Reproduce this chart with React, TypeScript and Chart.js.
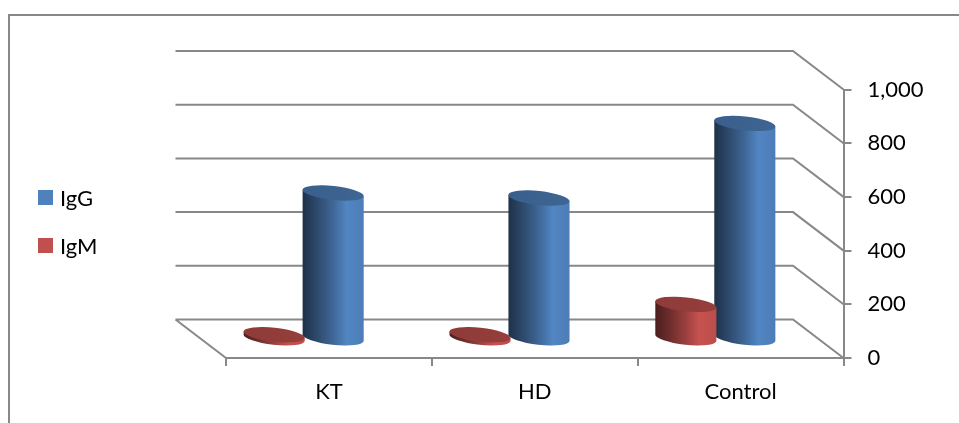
import { useEffect, useRef } from "react";
import { Chart, registerables, BarController, BarElement } from "chart.js";

Chart.register(...registerables);

// Chart data
const categories = ["KT", "HD", "Control"];
const igmValues = [15, 15, 128];
const iggValues = [543, 524, 802];
const yMin = 0;
const yMax = 1000;
const yStep = 200;

// Styling
const FONT = "Lato";
const FONT_SIZE = 22;
const LINE = "#888888";
const BLUE = "#4F81BD";
const RED = "#C0504D";

// Floor depth of the pseudo-3D box, in pixels
const DEPTH_X = 50.5;
const DEPTH_Y = 38.5;
const TILT = (6.2 * Math.PI) / 180;
const CAP_RY = 7;

function shade(hex: string, f: number) {
  const n = parseInt(hex.slice(1), 16);
  const c = [(n >> 16) & 255, (n >> 8) & 255, n & 255].map((v) =>
    Math.round(v * f)
  );
  return `rgb(${c[0]},${c[1]},${c[2]})`;
}

// A bar rendered as a slightly tilted cylinder standing on the mid-depth of the floor
class CylinderElement extends BarElement {
  static id = "cylinder";
  static defaults = BarElement.defaults;

  draw(ctx: CanvasRenderingContext2D) {
    const { x, y, base, width } = (this as any).getProps([
      "x",
      "y",
      "base",
      "width",
    ]);
    const color = (this as any).options.backgroundColor as string;
    const cx = x - DEPTH_X / 2;
    const topY = y - DEPTH_Y / 2;
    const bottomY = base - DEPTH_Y / 2;
    const rx = width / 2;

    const dx = rx * Math.cos(TILT);
    const dy = rx * Math.sin(TILT);

    const side = ctx.createLinearGradient(cx - rx, 0, cx + rx, 0);
    side.addColorStop(0, shade(color, 0.38));
    side.addColorStop(0.25, shade(color, 0.58));
    side.addColorStop(0.5, shade(color, 0.8));
    side.addColorStop(0.72, shade(color, 1.03));
    side.addColorStop(1, shade(color, 0.97));

    ctx.save();
    ctx.beginPath();
    ctx.moveTo(cx - dx, topY - dy);
    ctx.lineTo(cx - dx, bottomY - dy);
    ctx.ellipse(cx, bottomY, rx, CAP_RY, TILT, Math.PI, 0, true);
    ctx.lineTo(cx + dx, topY + dy);
    ctx.closePath();
    ctx.fillStyle = side;
    ctx.fill();

    const cap = ctx.createLinearGradient(cx - rx, 0, cx + rx, 0);
    cap.addColorStop(0, shade(color, 0.74));
    cap.addColorStop(1, shade(color, 0.78));
    ctx.beginPath();
    ctx.ellipse(cx, topY, rx, CAP_RY, TILT, 0, Math.PI * 2);
    ctx.fillStyle = cap;
    ctx.fill();
    ctx.restore();
  }
}

class CylinderController extends BarController {
  static id = "cylinderBar";
  static defaults = { ...BarController.defaults, dataElementType: "cylinder" };
}

Chart.register(CylinderElement as any, CylinderController as any);

// Frame, back wall, side wall, floor and the legend
const boxPlugin = {
  id: "box",
  beforeDraw(chart: any) {
    const ctx: CanvasRenderingContext2D = chart.ctx;
    ctx.save();
    ctx.strokeStyle = LINE;
    ctx.lineWidth = 2;
    ctx.beginPath();
    ctx.moveTo(9, 423);
    ctx.lineTo(9, 15);
    ctx.lineTo(959, 15);
    ctx.stroke();
    ctx.restore();
  },
  beforeDatasetsDraw(chart: any) {
    const ctx: CanvasRenderingContext2D = chart.ctx;
    const { left, right } = chart.chartArea;
    const yScale = chart.scales.y;
    ctx.save();
    ctx.strokeStyle = LINE;
    ctx.lineWidth = 2;
    ctx.beginPath();
    yScale.ticks.forEach((t: any) => {
      const py = yScale.getPixelForValue(t.value);
      ctx.moveTo(left - DEPTH_X, py - DEPTH_Y);
      ctx.lineTo(right - DEPTH_X, py - DEPTH_Y);
      ctx.lineTo(right, py);
    });
    const floor = yScale.getPixelForValue(yMin);
    ctx.moveTo(left - DEPTH_X, floor - DEPTH_Y);
    ctx.lineTo(left, floor);
    ctx.stroke();
    ctx.restore();
  },
  afterDraw(chart: any) {
    const ctx: CanvasRenderingContext2D = chart.ctx;
    const items = [...chart.data.datasets].reverse();
    ctx.save();
    ctx.font = `${FONT_SIZE}px ${FONT}`;
    ctx.textBaseline = "middle";
    ctx.textAlign = "left";
    items.forEach((ds: any, i: number) => {
      const cy = 197.5 + i * 48;
      ctx.fillStyle = ds.backgroundColor;
      ctx.fillRect(38, cy - 7.5, 15, 15);
      ctx.fillStyle = "#000000";
      ctx.fillText(ds.label, 60, cy + 1);
    });
    ctx.restore();
  },
};

export default function App() {
  const ref = useRef<HTMLCanvasElement>(null);

  useEffect(() => {
    const chart = new Chart(ref.current!, {
      type: "cylinderBar" as any,
      data: {
        labels: categories,
        datasets: [
          { label: "IgM", data: igmValues, backgroundColor: RED },
          { label: "IgG", data: iggValues, backgroundColor: BLUE },
        ],
      },
      plugins: [boxPlugin as any],
      options: {
        responsive: false,
        animation: false,
        layout: { padding: { left: 226, top: 89.5, right: 0, bottom: 0 } },
        categoryPercentage: 0.573,
        barPercentage: 1.042,
        plugins: { legend: { display: false }, tooltip: { enabled: false } },
        scales: {
          x: {
            type: "category",
            afterFit: (s: any) => {
              s.height = 65;
            },
            grid: {
              offset: true,
              drawOnChartArea: false,
              color: LINE,
              lineWidth: 2,
              tickLength: 8,
            },
            border: { color: LINE, width: 2 },
            ticks: {
              color: "#000000",
              padding: 13,
              font: { family: FONT, size: FONT_SIZE },
              maxRotation: 0,
            },
          },
          y: {
            type: "linear",
            position: "right",
            min: yMin,
            max: yMax,
            afterFit: (s: any) => {
              s.width = 115.5;
            },
            grid: {
              drawOnChartArea: false,
              color: LINE,
              lineWidth: 2,
              tickLength: 8,
            },
            border: { color: LINE, width: 2 },
            ticks: {
              stepSize: yStep,
              color: "#000000",
              padding: 16,
              font: { family: FONT, size: FONT_SIZE },
            },
          },
        },
      } as any,
    });
    return () => chart.destroy();
  }, []);

  return (
    <canvas
      ref={ref}
      width={959}
      height={423}
      style={{ position: "absolute", left: 0, top: 0, width: 959, height: 423 }}
    />
  );
}
